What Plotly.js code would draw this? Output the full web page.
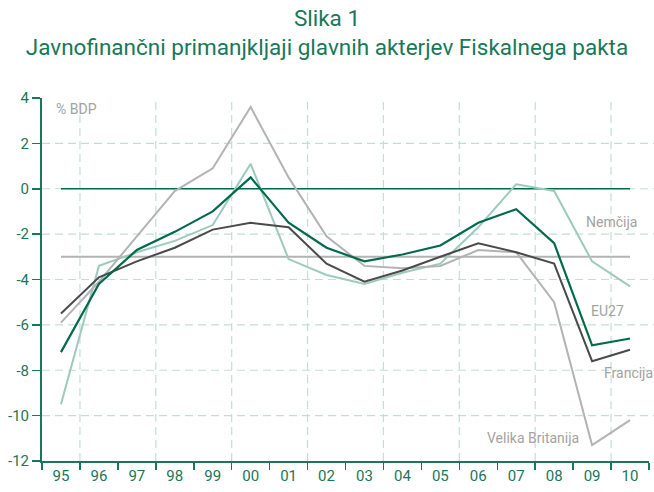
<!DOCTYPE html>
<html>
<head>
<meta charset="utf-8">
<script src="https://cdn.plot.ly/plotly-3.0.1.min.js"></script>
<style>html,body{margin:0;padding:0;background:#fff}#chart{width:654px;height:492px}</style>
</head>
<body>
<div id="chart"></div>
<script>
const years = ['95','96','97','98','99','00','01','02','03','04','05','06','07','08','09','10'];
const eu27     = [-7.2,-4.2,-2.7,-1.9,-1.0, 0.5,-1.5,-2.6,-3.2,-2.9,-2.5,-1.5,-0.9,-2.4,-6.9,-6.6];
const nemcija  = [-9.5,-3.4,-2.8,-2.3,-1.6, 1.1,-3.1,-3.8,-4.2,-3.7,-3.3,-1.7, 0.2,-0.1,-3.2,-4.3];
const britanija= [-5.9,-4.1,-2.1,-0.1, 0.9, 3.6, 0.5,-2.1,-3.4,-3.5,-3.4,-2.7,-2.8,-5.0,-11.3,-10.2];
const francija = [-5.5,-3.9,-3.2,-2.6,-1.8,-1.5,-1.7,-3.3,-4.1,-3.6,-3.0,-2.4,-2.8,-3.3,-7.6,-7.1];
const zeroRef = 0;
const limitRef = -3;
const yTicks = [-12,-10,-8,-6,-4,-2,0,2,4];

const GREEN = '#17785a';
const DARKGREEN = '#006b4c';
const LIGHTGREEN = '#9dcbb9';
const LIGHTGRAY = '#b3b3b3';
const DARKGRAY = '#4a4a4a';
const GRID = '#c3ded3';
const LABEL = '#a3a3a3';
const FONT = 'Roboto, "DejaVu Sans", sans-serif';

function line(y, color, width, name) {
  return {x: years, y: y, type: 'scatter', mode: 'lines', name: name,
          line: {color: color, width: width}, hoverinfo: 'skip'};
}

const traces = [
  line(years.map(() => limitRef), LIGHTGRAY, 2, 'limit'),
  line(years.map(() => zeroRef), DARKGREEN, 1.6, 'zero'),
  line(nemcija, LIGHTGREEN, 2, 'Nemčija'),
  line(britanija, LIGHTGRAY, 2, 'Velika Britanija'),
  line(francija, DARKGRAY, 2, 'Francija'),
  line(eu27, DARKGREEN, 2.2, 'EU27')
];

const shapes = [];
// vertical dashed grid at every other category boundary
for (let i = 0; i < years.length - 1; i += 2) {
  shapes.push({type: 'line', xref: 'x', yref: 'paper', x0: i + 0.5, x1: i + 0.5, y0: 0, y1: 1,
    line: {color: GRID, width: 1.2, dash: '8px,5px'}, layer: 'below'});
}
// horizontal dashed grid at inner y ticks
yTicks.slice(1, -1).forEach(v => {
  shapes.push({type: 'line', xref: 'paper', yref: 'y', x0: 0, x1: 1.01, y0: v, y1: v,
    line: {color: GRID, width: 1.2, dash: '8px,5px'}, layer: 'below'});
});

const labelFont = {family: FONT, size: 14, color: LABEL};
const annotations = [
  {xref: 'paper', yref: 'y', x: 0.02, y: 3.5, xanchor: 'left', yanchor: 'middle', text: '% BDP', showarrow: false, font: labelFont},
  {xref: 'x', yref: 'y', x: 14.5, y: -1.45, text: 'Nemčija', showarrow: false, font: labelFont},
  {xref: 'x', yref: 'y', x: 14.4, y: -5.4, text: 'EU27', showarrow: false, font: labelFont},
  {xref: 'x', yref: 'y', x: 14.95, y: -8.1, text: 'Francija', showarrow: false, font: labelFont},
  {xref: 'x', yref: 'y', x: 12.45, y: -11.0, text: 'Velika Britanija', showarrow: false, font: labelFont}
];

const layout = {
  width: 654, height: 492,
  margin: {l: 42, r: 5, t: 98, b: 31},
  paper_bgcolor: '#fff', plot_bgcolor: '#fff',
  showlegend: false,
  font: {family: FONT, color: GREEN},
  title: {
    text: 'Slika 1<br>Javnofinančni primanjkljaji glavnih akterjev Fiskalnega pakta',
    font: {family: FONT, size: 22.5, color: GREEN},
    x: 0.5, xanchor: 'center', xref: 'container',
    y: 0.947, yanchor: 'middle', yref: 'container'
  },
  xaxis: {
    type: 'category', range: [-0.5, years.length - 0.5],
    tickson: 'boundaries', ticks: 'outside', ticklen: 7, tickwidth: 1.5, tickcolor: GREEN,
    showline: true, linecolor: GREEN, linewidth: 2, showgrid: false, zeroline: false,
    tickfont: {family: FONT, size: 15, color: GREEN}, fixedrange: true
  },
  yaxis: {
    range: [-12, 4], tickvals: yTicks, ticktext: yTicks.map(String),
    ticks: 'outside', ticklen: 8, tickwidth: 1.5, tickcolor: GREEN,
    showline: true, linecolor: GREEN, linewidth: 2, showgrid: false, zeroline: false,
    tickfont: {family: FONT, size: 15, color: GREEN}, fixedrange: true
  },
  shapes: shapes,
  annotations: annotations
};

Plotly.newPlot('chart', traces, layout, {displayModeBar: false, staticPlot: true});
</script>
</body>
</html>
